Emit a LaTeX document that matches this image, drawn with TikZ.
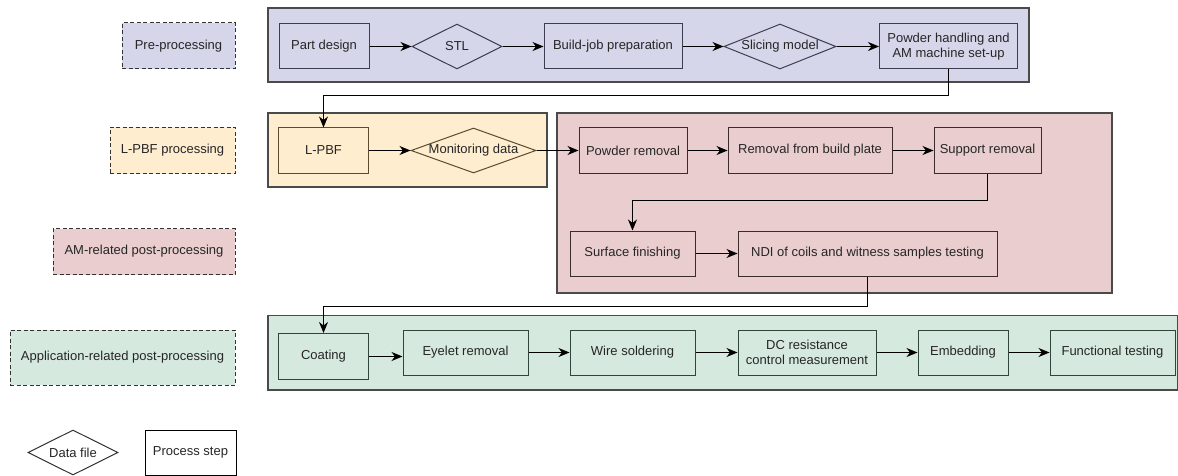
\documentclass[tikz,border=0pt]{standalone}
\usepackage{fontspec}
\setmainfont{Liberation Sans}
\usetikzlibrary{shapes.geometric,arrows.meta}
\definecolor{blueF}{HTML}{D5D6EA}
\definecolor{orangeF}{HTML}{FFEDCF}
\definecolor{pinkF}{HTML}{EACDCF}
\definecolor{greenF}{HTML}{D6E9DE}
\definecolor{blueD}{HTML}{3C3C50}
\definecolor{orangeD}{HTML}{5E4A2E}
\definecolor{pinkD}{HTML}{3A2C2D}
\definecolor{greenD}{HTML}{2F473A}
\definecolor{grpD}{HTML}{4A4A4A}
\begin{document}
\begin{tikzpicture}[x=1pt,y=-1pt,
  every node/.style={font=\fontsize{13}{15}\selectfont, align=center, inner sep=0pt, text=black!85},
  grpbox/.style={draw=grpD, line width=1.4pt, rectangle},
  pbox/.style={draw=#1, line width=1pt, rectangle, minimum height=45pt},
  dbox/.style={draw=#1, line width=1pt, diamond, minimum height=45pt},
  lbl/.style={draw=black!80, dash pattern=on 4pt off 2.5pt, line width=1pt, rectangle, minimum height=46pt},
  arr/.style={draw=black, line width=1pt, -{Stealth[length=11pt,width=9pt,inset=3.5pt]}}
]
\useasboundingbox (0,0) rectangle (1178,476);

% groups
\node[grpbox, fill=blueF, minimum width=761pt, minimum height=74pt] (g1) at (648.5,45) {};
\node[grpbox, fill=orangeF, minimum width=279pt, minimum height=74pt] (g2) at (407.5,150) {};
\node[grpbox, fill=pinkF, minimum width=555pt, minimum height=180pt] (g3) at (834.5,203) {};
\node[grpbox, fill=greenF, minimum width=910pt, minimum height=74.5pt] (g4) at (723,352.75) {};

% phase labels
\node[lbl, fill=blueF, minimum width=113pt] (lpre) at (178.5,46) {Pre-processing};
\node[lbl, fill=orangeF, minimum width=125pt] (llp) at (172.5,150.5) {L-PBF processing};
\node[lbl, fill=pinkF, minimum width=182pt] (lam) at (144,251.5) {AM-related post-processing};
\node[lbl, fill=greenF, minimum width=225pt, minimum height=55pt] (lapp) at (122.5,357.5) {Application-related post-processing};

% row 1
\node[pbox=blueD, minimum width=90pt] (pd) at (324,46.5) {Part design};
\node[dbox=blueD, minimum width=90pt, label={center:STL}] (stl) at (457,46.5) {};
\node[pbox=blueD, minimum width=138pt] (bjp) at (613,46.5) {Build-job preparation};
\node[dbox=blueD, minimum width=112pt, label={center:Slicing model}] (slc) at (780,46.5) {};
\node[pbox=blueD, minimum width=138pt] (phs) at (948.5,46.5) {Powder handling and\\AM machine set-up};

% row 2
\node[pbox=orangeD, minimum width=90pt] (lpbf) at (323.5,150.5) {L-PBF};
\node[dbox=orangeD, minimum width=125pt, label={center:Monitoring data}] (mon) at (473.5,150.5) {};
\node[pbox=pinkD, minimum width=108pt] (prm) at (633,150.5) {Powder removal};
\node[pbox=pinkD, minimum width=164pt] (rbp) at (810,150.5) {Removal from build plate};
\node[pbox=pinkD, minimum width=107pt] (sup) at (987.5,150.5) {Support removal};

% row 3
\node[pbox=pinkD, minimum width=125pt] (sf) at (632.5,253.5) {Surface finishing};
\node[pbox=pinkD, minimum width=259pt] (ndi) at (867.5,253.5) {NDI of coils and witness samples testing};

% row 4
\node[pbox=greenD, minimum width=90pt, minimum height=46pt] (coat) at (323.5,356.5) {Coating};
\node[pbox=greenD, minimum width=125pt] (eye) at (465.5,352.5) {Eyelet removal};
\node[pbox=greenD, minimum width=125pt] (wire) at (632.5,352.5) {Wire soldering};
\node[pbox=greenD, minimum width=138pt] (dc) at (807,352.5) {DC resistance\\control measurement};
\node[pbox=greenD, minimum width=90pt] (emb) at (963,352.5) {Embedding};
\node[pbox=greenD, minimum width=125pt] (ft) at (1112.5,352.5) {Functional testing};

% legend
\node[dbox=black!80, fill=white, minimum width=90pt, label={center:Data file}] (ldf) at (73,452.5) {};
\node[pbox=black, fill=white, minimum width=91pt] (lps) at (190.5,452.5) {Process step};

% bend coordinates
\coordinate (k1) at (0,95.5);
\coordinate (k2) at (0,200.5);
\coordinate (k3) at (0,306.5);

% connectors
\draw[arr] (pd) -- (stl);
\draw[arr] (stl) -- (bjp);
\draw[arr] (bjp) -- (slc);
\draw[arr] (slc) -- (phs);
\draw[arr] (phs.south) -- (phs.south |- k1) -| (lpbf.north);
\draw[arr] (lpbf) -- (mon);
\draw[arr] (mon) -- (prm);
\draw[arr] (prm) -- (rbp);
\draw[arr] (rbp) -- (sup);
\draw[arr] (sup.south) -- (sup.south |- k2) -| (sf.north);
\draw[arr] (sf) -- (ndi);
\draw[arr] (ndi.south) -- (ndi.south |- k3) -| (coat.north);
\draw[arr] (coat.east) -- (coat.east -| eye.west);
\draw[arr] (eye) -- (wire);
\draw[arr] (wire) -- (dc);
\draw[arr] (dc) -- (emb);
\draw[arr] (emb) -- (ft);
\end{tikzpicture}
\end{document}
